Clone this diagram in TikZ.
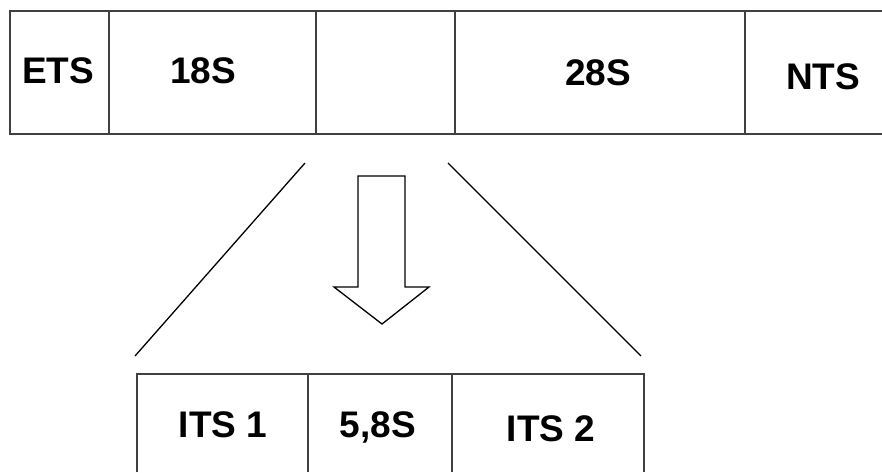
\documentclass[tikz,border=0pt]{standalone}
\usepackage{fontspec}
\setmainfont{Liberation Sans}
\begin{document}
\begin{tikzpicture}[x=1pt,y=-1pt,
  frame/.style={line width=1.6pt, draw=black!75},
  thin line/.style={line width=1.3pt, draw=black},
  lbl/.style={font=\fontsize{37}{40}\selectfont\bfseries, inner sep=0pt, anchor=base}]
\useasboundingbox (0,0) rectangle (882,472);
% top bar
\draw[frame] (882,11) -- (10,11) -- (10,134) -- (882,134);
\foreach \x in {109,316,455,745} \draw[frame] (\x,11) -- (\x,134);
\node[lbl] (ets) at (58,83) {ETS};
\node[lbl] (s18) at (203,83) {18S};
\node[lbl] (s28) at (598,85) {28S};
\node[lbl] (nts) at (823,89) {NTS};
% bottom bar
\draw[frame] (137,472) -- (137,374) -- (644,374) -- (644,472);
\foreach \x in {308,452} \draw[frame] (\x,374) -- (\x,472);
\node[lbl] (its1) at (223,437) {ITS 1};
\node[lbl] (s58) at (378,437) {5,8S};
\node[lbl] (its2) at (551,441) {ITS 2};
% zoom lines
\coordinate (lt) at (305,163);
\coordinate (lb) at (135,356);
\coordinate (rt) at (448,163);
\coordinate (rb) at (641,356);
\draw[thin line] (lt) -- (lb);
\draw[thin line] (rt) -- (rb);
% block arrow
\draw[thin line, line join=miter] (358,176) -- (405,176) -- (405,287) -- (429,287) -- (382,324) -- (334,287) -- (358,287) -- cycle;
\end{tikzpicture}
\end{document}
